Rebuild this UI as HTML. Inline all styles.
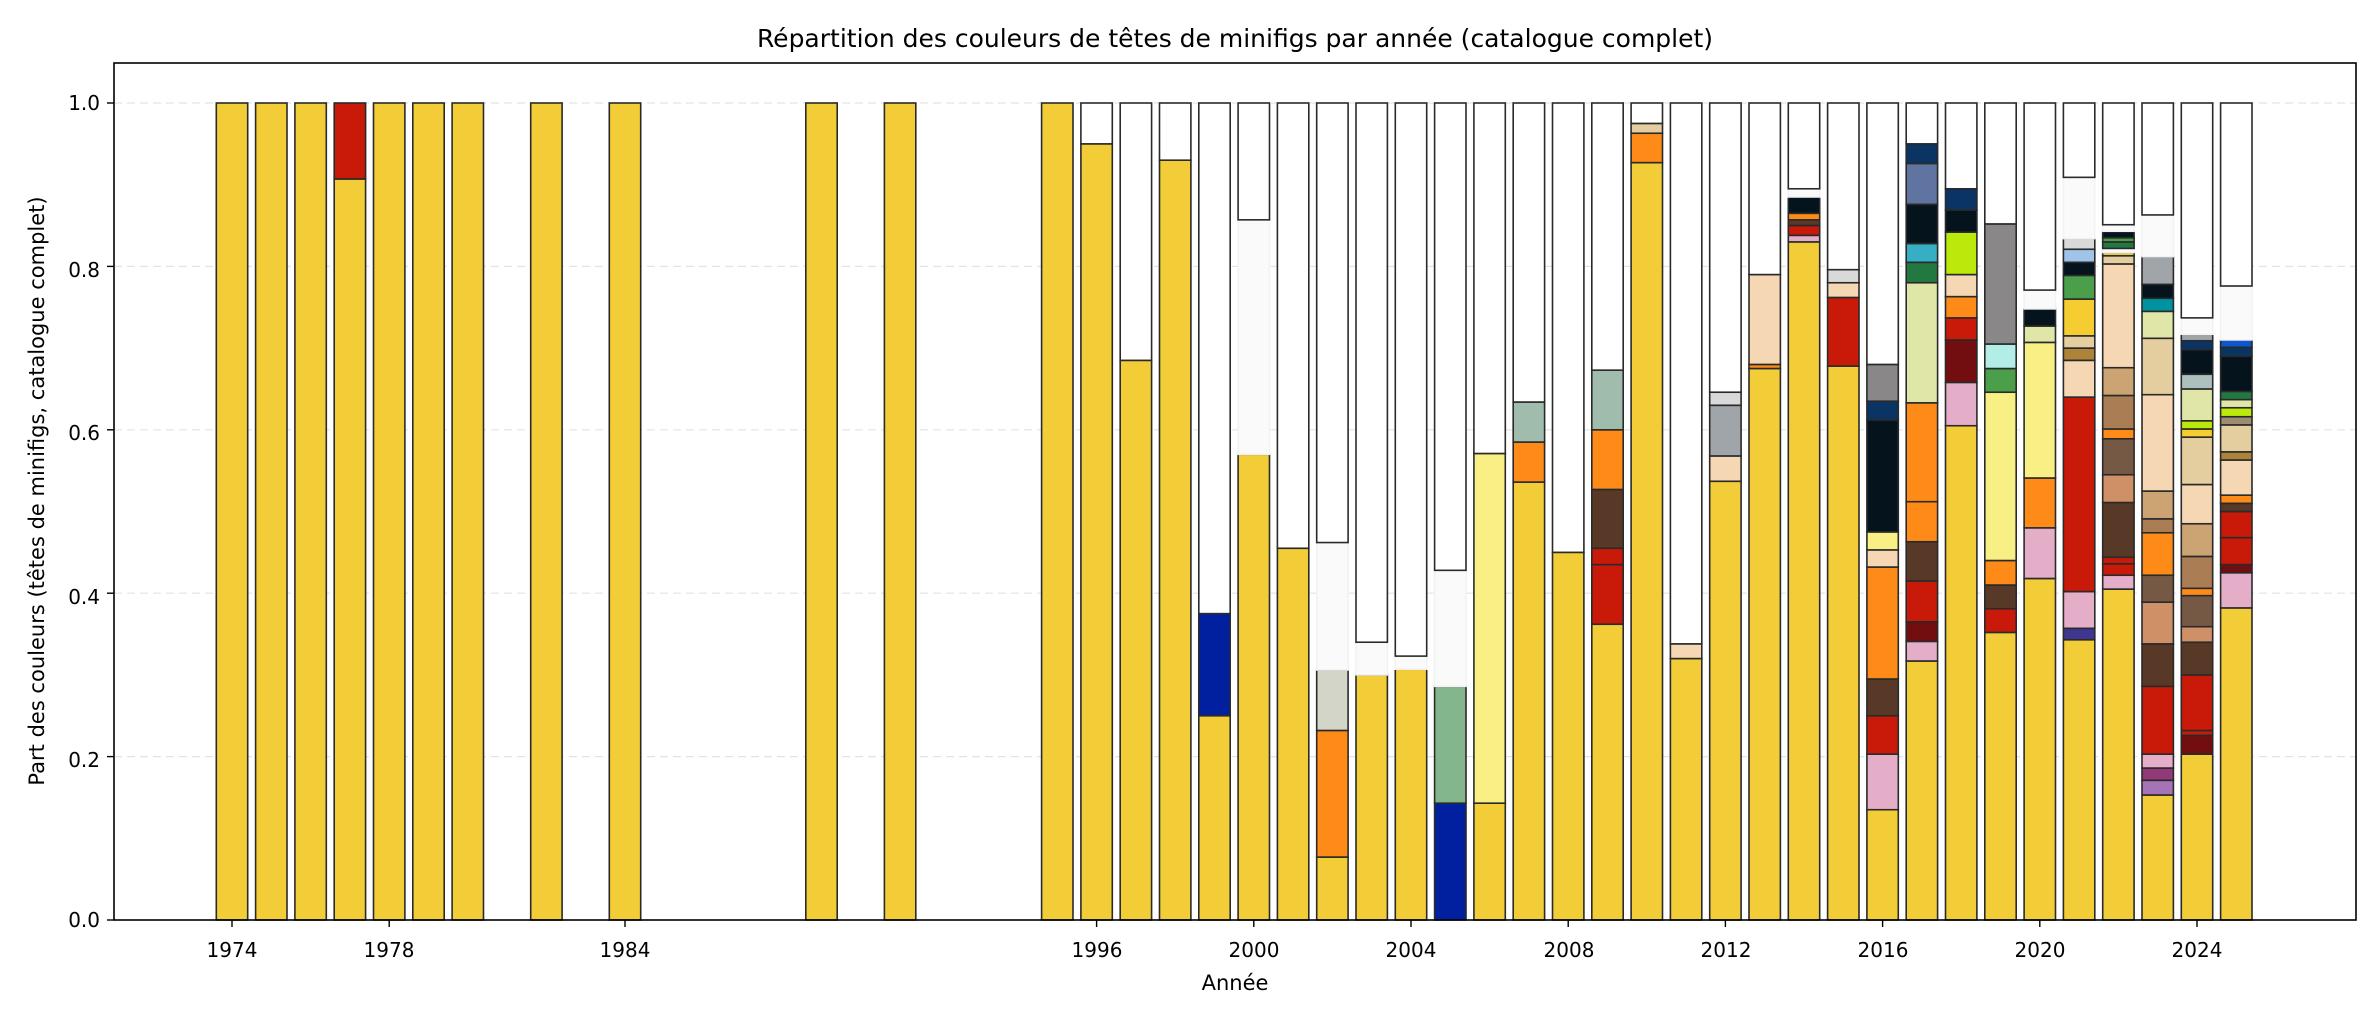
<!DOCTYPE html>
<html><head><meta charset="utf-8"><style>
html,body{margin:0;padding:0;background:#fff;}
svg text{font-family:"DejaVu Sans","Liberation Sans",sans-serif;fill:#000;}
</style></head><body>
<svg id="s" width="2380" height="1020" viewBox="0 0 2380 1020" xmlns="http://www.w3.org/2000/svg">
<rect width="2380" height="1020" fill="#fff"/>
<g id="grid"></g>
<g id="bars"></g>
<rect x="114" y="63" width="2242" height="857" fill="none" stroke="#000" stroke-width="1.6"/>
<g id="ticks"></g>
<text x="1235" y="47" font-size="25" text-anchor="middle">Répartition des couleurs de têtes de minifigs par année (catalogue complet)</text>
<text x="1235" y="990" font-size="21" text-anchor="middle">Année</text>
<text transform="translate(44,491) rotate(-90)" font-size="21" text-anchor="middle">Part des couleurs (têtes de minifigs, catalogue complet)</text>
<g font-size="20">
<text x="100" y="110" text-anchor="end">1.0</text>
<text x="100" y="277" text-anchor="end">0.8</text>
<text x="100" y="440" text-anchor="end">0.6</text>
<text x="100" y="604" text-anchor="end">0.4</text>
<text x="100" y="767" text-anchor="end">0.2</text>
<text x="100" y="927" text-anchor="end">0.0</text>
<text x="232" y="957" text-anchor="middle">1974</text>
<text x="389" y="957" text-anchor="middle">1978</text>
<text x="625" y="957" text-anchor="middle">1984</text>
<text x="1097" y="957" text-anchor="middle">1996</text>
<text x="1254" y="957" text-anchor="middle">2000</text>
<text x="1411" y="957" text-anchor="middle">2004</text>
<text x="1569" y="957" text-anchor="middle">2008</text>
<text x="1726" y="957" text-anchor="middle">2012</text>
<text x="1883" y="957" text-anchor="middle">2016</text>
<text x="2040" y="957" text-anchor="middle">2020</text>
<text x="2197" y="957" text-anchor="middle">2024</text>
</g>
</svg>
<script>
const Y='#f2cd37',W='#ffffff',N='#fafafa',R='#c91a09',O='#fe8a18',P='#f6d7b3',B='#583927',K='#05131d',NV='#0a3463',PK='#e4adc8',DR='#720e0f',LY='#f8f084',LG='#d9d9d9',GR='#a0a5a9',DG='#898788',TN='#e4cd9e',SG='#a0bcac',PL='#dfe6a8',GN='#4b9f4a',LIME='#bbe90b',MB='#755945',TC='#cf8f67',MT='#aa7d55',DT='#cca373',GO='#ac8339',BL='#0020a0';
const D={
1974:[[1,Y]],1975:[[1,Y]],1976:[[1,Y]],1977:[[.907,Y],[1,R]],1978:[[1,Y]],1979:[[1,Y]],1980:[[1,Y]],1982:[[1,Y]],1984:[[1,Y]],1989:[[1,Y]],1991:[[1,Y]],1995:[[1,Y]],
1996:[[.95,Y],[1,W]],1997:[[.685,Y],[1,W]],1998:[[.93,Y],[1,W]],
1999:[[.25,Y],[.375,BL],[1,W]],2000:[[.57,Y],[.857,N],[1,W]],2001:[[.455,Y],[1,W]],
2002:[[.077,Y],[.232,O],[.306,'#d3d5c8'],[.462,N],[1,W]],2003:[[.30,Y],[.34,N],[1,W]],2004:[[.307,Y],[.323,N],[1,W]],
2005:[[.143,BL],[.286,'#84b68d'],[.428,N],[1,W]],2006:[[.143,Y],[.571,LY],[1,W]],
2007:[[.536,Y],[.585,O],[.634,SG],[1,W]],2008:[[.45,Y],[1,W]],
2009:[[.362,Y],[.435,R],[.455,R],[.527,B],[.6,O],[.673,SG],[1,W]],
2010:[[.927,Y],[.963,O],[.975,TN],[1,W]],2011:[[.32,Y],[.338,P],[1,W]],
2012:[[.537,Y],[.568,P],[.63,GR],[.646,LG],[1,W]],2013:[[.675,Y],[.68,O],[.79,P],[1,W]],
2014:[[.83,Y],[.838,PK],[.85,R],[.857,B],[.865,O],[.885,K],[.895,N],[1,W]],
2015:[[.678,Y],[.762,R],[.78,P],[.796,LG],[1,W]],
2016:[[.135,Y],[.203,PK],[.25,R],[.295,B],[.432,O],[.453,P],[.475,LY],[.612,K],[.635,NV],[.68,DG],[1,W]],
2017:[[.317,Y],[.341,PK],[.365,DR],[.415,R],[.463,B],[.512,O],[.633,O],[.78,PL],[.805,'#237841'],[.828,'#36aec4'],[.876,K],[.926,'#6074a1'],[.95,NV],[1,W]],
2018:[[.605,Y],[.658,PK],[.71,DR],[.737,R],[.763,O],[.79,P],[.842,LIME],[.869,K],[.895,NV],[1,W]],
2019:[[.352,Y],[.381,R],[.41,B],[.44,O],[.646,LY],[.675,GN],[.705,'#b3ede8'],[.852,DG],[1,W]],
2020:[[.418,Y],[.48,PK],[.541,O],[.707,LY],[.727,PL],[.748,K],[.771,N],[1,W]],
2021:[[.343,Y],[.357,'#3f3691'],[.402,PK],[.64,R],[.685,P],[.70,GO],[.715,TN],[.76,'#f5cd30'],[.789,GN],[.805,K],[.821,'#9fc3e9'],[.834,LG],[.909,N],[1,W]],
2022:[[.405,Y],[.422,PK],[.436,R],[.444,R],[.511,B],[.545,TC],[.589,MB],[.601,O],[.642,MT],[.676,DT],[.803,P],[.813,TN],[.817,Y],[.822,N],[.83,'#237841'],[.835,GN],[.843,K],[.851,N],[1,W]],
2023:[[.153,Y],[.171,'#a673b6'],[.186,'#923978'],[.203,PK],[.286,R],[.338,B],[.389,TC],[.422,MB],[.474,O],[.491,MT],[.525,DT],[.643,P],[.712,TN],[.745,PL],[.761,'#00939f'],[.778,K],[.812,GR],[.863,N],[1,W]],
2024:[[.203,Y],[.226,DR],[.232,R],[.300,R],[.340,B],[.359,TC],[.397,MB],[.406,O],[.445,MT],[.485,DT],[.533,P],[.591,TN],[.601,'#f5cd30'],[.611,LIME],[.650,PL],[.668,'#acc0be'],[.698,K],[.709,NV],[.717,GR],[.737,N],[1,W]],
2025:[[.382,Y],[.425,PK],[.435,DR],[.468,R],[.500,R],[.510,B],[.520,O],[.563,P],[.573,GO],[.606,TN],[.616,'#9d8c72'],[.627,LIME],[.637,PL],[.647,'#237841'],[.690,K],[.701,NV],[.710,'#0a57cf'],[.776,N],[1,W]]
};
const ns='http://www.w3.org/2000/svg';
function el(t,a,p){const e=document.createElementNS(ns,t);for(const k in a)e.setAttribute(k,a[k]);p.appendChild(e);return e;}
const g=document.getElementById('grid'),b=document.getElementById('bars'),tk=document.getElementById('ticks');
const yv=v=>920-817*v, xv=yr=>232+39.3*(yr-1974);
[0.2,0.4,0.6,0.8,1.0].forEach(v=>el('line',{x1:114,x2:2356,y1:yv(v),y2:yv(v),stroke:'#e3e3e3','stroke-width':1.2,'stroke-dasharray':'8,5'},g));
[0,0.2,0.4,0.6,0.8,1.0].forEach(v=>el('line',{x1:107,x2:114,y1:yv(v),y2:yv(v),stroke:'#000','stroke-width':1.4},tk));
[1974,1978,1984,1996,2000,2004,2008,2012,2016,2020,2024].forEach(y=>el('line',{x1:xv(y),x2:xv(y),y1:920,y2:927,stroke:'#000','stroke-width':1.4},tk));
for(const yr in D){let lo=0;const x=xv(+yr)-15.7;
 for(const [hi,c] of D[yr]){const st=(c===N)?'#f2f2f2':'#2a2a2a';
  el('rect',{x:x,y:yv(hi),width:31.4,height:Math.max(0.5,817*(hi-lo)),fill:c,stroke:st,'stroke-width':1.6},b);lo=hi;}}
</script>
</body></html>
